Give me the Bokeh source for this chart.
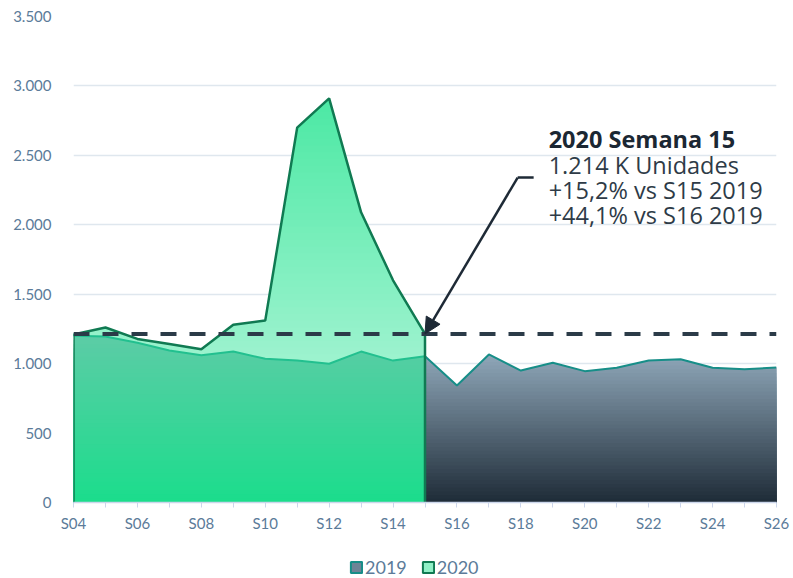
import numpy as np
from bokeh.plotting import figure
from bokeh.layouts import column
from bokeh.models import (Range1d, FixedTicker, Span, Arrow, NormalHead, Label,
                          Legend, LegendItem, ColumnDataSource)
from bokeh.embed import file_html
from bokeh.resources import INLINE

# ---------------- data ----------------
weeks = ["S04", "S05", "S06", "S07", "S08", "S09", "S10", "S11", "S12", "S13", "S14", "S15",
         "S16", "S17", "S18", "S19", "S20", "S21", "S22", "S23", "S24", "S25", "S26"]
sales_2019 = [1200, 1195, 1150, 1095, 1060, 1087, 1035, 1022, 999, 1087, 1022, 1054,
              842, 1066, 950, 1006, 946, 970, 1023, 1032, 970, 960, 972]
sales_2020 = [1210, 1260, 1178, 1142, 1104, 1280, 1310, 2700, 2910, 2090, 1600, 1214]
y_ticks = [0, 500, 1000, 1500, 2000, 2500, 3000, 3500]
y_labels = ["0", "500", "1.000", "1.500", "2.000", "2.500", "3.000", "3.500"]
series_names = ["2019", "2020"]
annot_title = "2020 Semana 15"
annot_lines = ["1.214 K Unidades", "+15,2% vs S15 2019", "+44,1% vs S16 2019"]

x_all = np.arange(len(weeks), dtype=float)
cut = len(sales_2020) - 1          # index of S15
x_left = x_all[:cut + 1]
x_right = x_all[cut:]
y19 = np.array(sales_2019, dtype=float)
y20 = np.array(sales_2020, dtype=float)
y19_left = y19[:cut + 1]
y19_right = y19[cut:]
highlight = sales_2020[-1]

# ---------------- helpers for vertical gradients ----------------
def hex2rgb(h):
    h = h.lstrip("#")
    return np.array([int(h[i:i + 2], 16) for i in (0, 2, 4)], dtype=float)

def rgb2hex(c):
    c = np.clip(np.round(c), 0, 255).astype(int)
    return "#%02x%02x%02x" % tuple(c)

def color_at(v, v0, c0, v1, c1):
    t = (v - v0) / (v1 - v0)
    return rgb2hex(hex2rgb(c0) + (hex2rgb(c1) - hex2rgb(c0)) * t)

def subdivide(x, curves, levels):
    xs = set(float(v) for v in x)
    for c in curves:
        for i in range(len(x) - 1):
            a, b = c[i], c[i + 1]
            for L in levels:
                if (a - L) * (b - L) < 0:
                    xs.add(float(x[i] + (L - a) / (b - a) * (x[i + 1] - x[i])))
    xs = np.array(sorted(xs))
    return xs, [np.interp(xs, x, c) for c in curves]

def gradient_area(p, x, lower, upper, vmax, v0, c0, v1, c1, n=40):
    levels = np.linspace(0, vmax, n + 1)
    xs, (lo, up) = subdivide(x, [lower, upper], levels)
    for k in range(n - 1, -1, -1):
        top = levels[k + 1]
        y2 = np.maximum(lo, np.minimum(up, top))
        mid = 0.5 * (levels[k] + levels[k + 1])
        p.varea(x=xs, y1=lo, y2=y2, fill_color=color_at(mid, v0, c0, v1, c1),
                fill_alpha=1.0)

# ---------------- main figure ----------------
p = figure(width=793, height=544, x_range=Range1d(0, len(weeks) - 1),
           y_range=Range1d(0, 3500), output_backend="svg", toolbar_location=None,
           min_border_left=73, min_border_right=17, min_border_top=16,
           min_border_bottom=42)
p.outline_line_color = None
p.background_fill_color = "white"
p.border_fill_color = "white"

p.xgrid.visible = False
p.ygrid.ticker = FixedTicker(ticks=y_ticks)
p.ygrid.grid_line_color = "#dfe7ee"
p.ygrid.grid_line_width = 1.6

label_color = "#5b7b99"
p.yaxis.ticker = FixedTicker(ticks=y_ticks)
p.yaxis.major_label_overrides = {t: l for t, l in zip(y_ticks, y_labels)}
p.yaxis.axis_line_color = None
p.yaxis.major_tick_line_color = None
p.yaxis.minor_tick_line_color = None
p.yaxis.major_label_standoff = 16
p.yaxis.major_label_text_font = "Lato"
p.yaxis.major_label_text_font_size = "15px"
p.yaxis.major_label_text_color = label_color

p.xaxis.ticker = FixedTicker(ticks=list(range(len(weeks))))
p.xaxis.major_label_overrides = {i: (w if i % 2 == 0 else "") for i, w in enumerate(weeks)}
p.xaxis.axis_line_color = "#ccd6eb"
p.xaxis.axis_line_width = 1.5
p.xaxis.major_tick_line_color = "#ccd6eb"
p.xaxis.major_tick_out = 5
p.xaxis.major_tick_in = 0
p.xaxis.minor_tick_line_color = None
p.xaxis.major_label_standoff = 6
p.xaxis.major_label_text_font = "Lato"
p.xaxis.major_label_text_font_size = "15px"
p.xaxis.major_label_text_color = label_color

# ---------------- areas ----------------
zeros_r = np.zeros_like(y19_right)
zeros_l = np.zeros_like(y19_left)
gradient_area(p, x_right, zeros_r, y19_right, max(y19_right), 0, "#1e2b37", 1066, "#8fa7b9")
gradient_area(p, x_left, zeros_l, y19_left, max(y19_left), 0, "#1bdd8c", 1200, "#5ccca6")
gradient_area(p, x_left, y19_left, y20, max(y20), 1000, "#9ef3cf", 3000, "#48e8a2", n=60)

# lines
p.line(x_left, y19_left, line_color="#22c08f", line_width=2)
p.line(x_right, y19_right, line_color="#178e88", line_width=2)
x20_outline = np.concatenate([[x_left[0]], x_left, [x_left[-1]]])
y20_outline = np.concatenate([[0], y20, [0]])
p.line(x20_outline, y20_outline, line_color="#107a52", line_width=2.5)

# highlight dashed line
p.add_layout(Span(location=highlight, dimension="width", line_color="#2b3b48",
                  line_width=4, line_dash="16 13"))

# annotation callout
tail_x, tail_y = 13.9, 2340
p.line([tail_x, tail_x + 0.5], [tail_y, tail_y], line_color="#1e2a36", line_width=2.5)
p.add_layout(Arrow(end=NormalHead(size=16, fill_color="#1e2a36", line_color="#1e2a36"),
                   x_start=tail_x, y_start=tail_y, x_end=x_left[-1], y_end=highlight,
                   line_color="#1e2a36", line_width=2.5))
text_x = 14.87
p.add_layout(Label(x=text_x, y=2615, text=annot_title, text_font="Open Sans",
                   text_font_style="bold", text_font_size="23.5px", text_color="#1b2733",
                   text_baseline="alphabetic", text_align="left"))
for txt, yy in zip(annot_lines, [2432, 2247, 2067]):
    p.add_layout(Label(x=text_x, y=yy, text=txt, text_font="Open Sans",
                       text_font_size="23.5px", text_color="#2e3b47",
                       text_baseline="alphabetic", text_align="left"))

# ---------------- legend (separate strip below) ----------------
q = figure(width=793, height=34, x_range=Range1d(0, 1), y_range=Range1d(0, 1),
           output_backend="svg", toolbar_location=None,
           x_axis_location=None, y_axis_location=None,
           min_border_left=0, min_border_right=0, min_border_top=0, min_border_bottom=0)
q.outline_line_color = None
q.xgrid.visible = False
q.ygrid.visible = False
proxy = ColumnDataSource(dict(left=[np.nan], right=[np.nan], top=[np.nan], bottom=[np.nan]))
r19 = q.quad(left="left", right="right", top="top", bottom="bottom", source=proxy,
             fill_color="#6d8496", line_color="#178e88", line_width=2)
r20 = q.quad(left="left", right="right", top="top", bottom="bottom", source=proxy,
             fill_color="#8ff0c6", line_color="#107a52", line_width=2)
legend = Legend(items=[LegendItem(label=series_names[0], renderers=[r19]),
                       LegendItem(label=series_names[1], renderers=[r20])],
                orientation="horizontal", location=(276, 0),
                label_text_font="Lato", label_text_font_size="18px",
                label_text_color=label_color, glyph_width=14, glyph_height=14,
                label_standoff=2, spacing=14, padding=0, margin=0,
                border_line_color=None, background_fill_alpha=0)
q.add_layout(legend, "center")

layout = column(p, q, spacing=0)
open("out.html", "w").write(file_html(layout, INLINE))
